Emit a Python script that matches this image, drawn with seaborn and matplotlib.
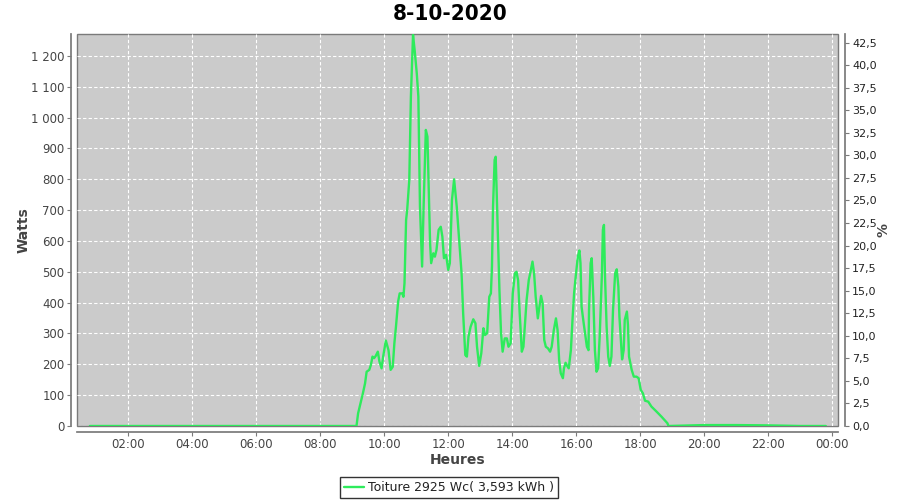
import matplotlib
matplotlib.use("Agg")
import matplotlib.pyplot as plt
import pandas as pd
import seaborn as sns
from matplotlib.ticker import FuncFormatter, MultipleLocator

# ---------------------------------------------------------------------------
# Donnees (minutes depuis minuit, puissance en W)
# ---------------------------------------------------------------------------
TITRE = "8-10-2020"
CRETE_WC = 2925
ENERGIE = "3,593"
VERT = "#2EEB5C"

nuit_min = [48, 120, 240, 360, 480, 548]
nuit_w = [0, 0, 0, 0, 0, 0]

jour_min = [
    551, 560, 564, 567, 572, 575, 578, 581, 584, 588,
    591, 595, 598, 603, 608, 612, 616, 619, 622, 626,
    629, 634, 636, 638, 641, 643, 647, 650, 653, 654,
    657, 661, 664, 667, 671, 674, 678, 681, 683, 686,
    688, 692, 695, 698, 702, 706, 709, 712, 716, 720,
    723, 727, 731, 736, 741, 745, 748, 752, 755, 758,
    762, 767, 771, 774, 778, 782, 786, 789, 793, 797,
    800, 802, 804, 807, 809, 812, 816, 819, 822, 826,
    830, 833, 837, 841, 845, 848, 851, 854, 858, 861,
    864, 867, 871, 875, 878, 881, 884, 888, 891, 894,
    897, 900, 903, 907, 911, 914, 918, 922, 925, 928,
    931, 935, 937, 940, 943, 946, 950, 953, 956, 959,
    963, 966, 968, 970, 974, 980, 983, 984, 987, 989,
    992, 995, 998, 1001, 1004, 1008, 1010, 1012, 1014, 1017,
    1020, 1023, 1026, 1029, 1033, 1036, 1039, 1041, 1044, 1046,
    1049, 1051, 1055, 1057, 1059, 1064, 1068, 1073, 1077, 1081,
    1085, 1089, 1095, 1101, 1111, 1120, 1131, 1133,
]
jour_w = [
    41, 106, 138, 176, 182, 198, 225, 220, 227, 241,
    209, 187, 225, 277, 246, 182, 192, 268, 322, 403,
    430, 430, 419, 463, 668, 700, 798, 1068, 1219, 1268,
    1219, 1144, 1068, 711, 517, 722, 960, 938, 798, 592,
    528, 560, 549, 571, 636, 646, 614, 544, 555, 506,
    528, 733, 800, 711, 592, 495, 365, 230, 225, 290,
    322, 346, 333, 257, 195, 236, 317, 295, 301, 419,
    430, 517, 711, 863, 873, 690, 441, 301, 241, 284,
    284, 257, 268, 430, 495, 500, 473, 365, 241, 257,
    333, 409, 473, 506, 533, 495, 419, 349, 387, 422,
    398, 279, 257, 252, 241, 257, 311, 349, 311, 214,
    171, 155, 187, 205, 195, 187, 246, 344, 430, 484,
    549, 569, 528, 387, 333, 257, 246, 376, 528, 544,
    419, 246, 176, 187, 290, 484, 636, 652, 484, 322,
    225, 195, 225, 376, 495, 508, 452, 354, 268, 216,
    246, 344, 371, 328, 225, 182, 160, 160, 155, 117,
    106, 82, 79, 63, 46, 30, 9, 0,
]

soir_min = [1200, 1260, 1320, 1380, 1428]
soir_w = [3, 3, 2, 0, 0]

XLIM = (24, 1451)
YMAX = 1271
GRIS = "#444444"

df = pd.DataFrame({
    "minute": nuit_min + jour_min + soir_min,
    "watts": nuit_w + jour_w + soir_w,
})

sns.set_theme(style="white")
plt.rcParams["font.family"] = ["DejaVu Sans"]

fig = plt.figure(figsize=(9, 5), dpi=100)
ax = fig.add_axes([0.0856, 0.148, 0.8456, 0.784])
ax.set_facecolor("#CBCBCB")
ax.patch.set_edgecolor("#7A7A7A")
ax.patch.set_linewidth(1.0)

sns.lineplot(data=df, x="minute", y="watts", ax=ax, color=VERT,
             linewidth=1.7, estimator=None, sort=False,
             label=f"Toiture {CRETE_WC} Wc( {ENERGIE} kWh )", legend=False)

ax.set_xlim(*XLIM)
ax.set_ylim(0, YMAX)
ax.xaxis.set_major_locator(MultipleLocator(120))
ax.xaxis.set_major_formatter(FuncFormatter(
    lambda v, p: f"{int(v // 60) % 24:02d}:{int(v % 60):02d}"))
ax.yaxis.set_major_locator(MultipleLocator(100))
ax.yaxis.set_major_formatter(FuncFormatter(
    lambda v, p: f"{int(v):,}".replace(",", " ")))
ax.grid(True, color="white", linestyle=(0, (3, 2)), linewidth=0.8)

for s in ["top", "right"]:
    ax.spines[s].set_visible(False)
for s in ["left", "bottom"]:
    ax.spines[s].set_position(("outward", 4))
    ax.spines[s].set_color("#7A7A7A")
ax.tick_params(axis="both", direction="out", length=3, width=0.8,
               color="#7A7A7A", labelsize=8.5, labelcolor=GRIS, pad=2,
               left=True, bottom=True)

ax.set_xlabel("Heures", fontsize=10, fontweight="bold", color=GRIS,
              labelpad=1)
ax.set_ylabel("Watts", fontsize=10, fontweight="bold", color=GRIS,
              labelpad=0)

# axe secondaire en % de la puissance crete
ax2 = ax.twinx()
ax2.set_ylim(0, YMAX / CRETE_WC * 100)
ax2.yaxis.set_major_locator(MultipleLocator(2.5))
ax2.yaxis.set_major_formatter(FuncFormatter(
    lambda v, p: f"{v:.1f}".replace(".", ",")))
for s in ["top", "left", "bottom"]:
    ax2.spines[s].set_visible(False)
ax2.spines["right"].set_position(("outward", 5))
ax2.spines["right"].set_color("#7A7A7A")
ax2.tick_params(axis="y", direction="out", length=3, width=0.8,
                color="#7A7A7A", labelsize=8, labelcolor="#222222", pad=2,
                right=True)
ax2.grid(False)
ax2.set_ylabel("%", fontsize=10, fontweight="bold", color=GRIS, labelpad=0)

fig.text(0.5, 1 - 14 / 500, TITRE, ha="center", va="center", fontsize=16,
         fontweight="bold", fontstretch="condensed", color="black")

poignees, etiquettes = ax.get_legend_handles_labels()
leg = fig.legend(poignees, etiquettes, loc="center",
                 bbox_to_anchor=(449 / 900, 1 - 487.5 / 500), frameon=True,
                 fancybox=False, fontsize=9, handlelength=1.6,
                 handletextpad=0.3, borderpad=0.3, borderaxespad=0)
leg.get_frame().set_edgecolor("black")
leg.get_frame().set_linewidth(1.0)
for t in leg.get_texts():
    t.set_color("#222222")

fig.savefig("out.png", dpi=100)
